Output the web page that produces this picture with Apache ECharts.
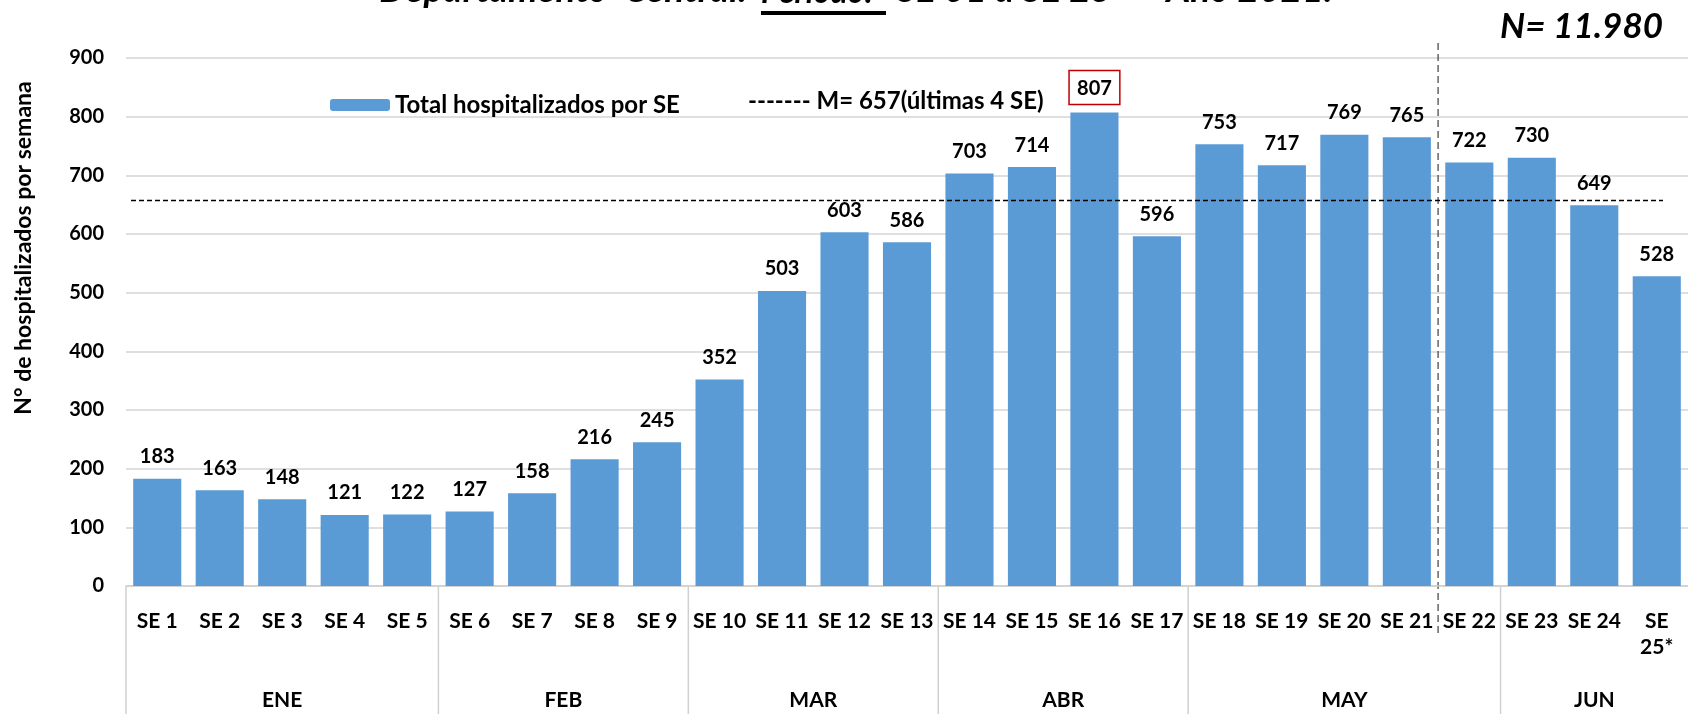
<!DOCTYPE html>
<html>
<head>
<meta charset="utf-8">
<script src="https://cdn.jsdelivr.net/npm/echarts@6/dist/echarts.min.js"></script>
<style>
  html, body { margin: 0; padding: 0; background: #fff; }
  #chart { width: 1688px; height: 714px; }
</style>
</head>
<body>
<div id="chart"></div>
<script>
// datos: semanas epidemiológicas y hospitalizados
const categories = ['SE 1', 'SE 2', 'SE 3', 'SE 4', 'SE 5', 'SE 6', 'SE 7', 'SE 8', 'SE 9', 'SE 10',
  'SE 11', 'SE 12', 'SE 13', 'SE 14', 'SE 15', 'SE 16', 'SE 17', 'SE 18', 'SE 19', 'SE 20',
  'SE 21', 'SE 22', 'SE 23', 'SE 24', 'SE\n25*'];
const hospitalizados = [183, 163, 148, 121, 122, 127, 158, 216, 245, 352, 503, 603, 586, 703, 714,
  807, 596, 753, 717, 769, 765, 722, 730, 649, 528];
const months = ['ENE', 'FEB', 'MAR', 'ABR', 'MAY', 'JUN'];
const monthWeeks = [5, 4, 4, 4, 5, 3];   // cantidad de SE por mes
const meanValue = 657;
const meanSpan = [-0.42, 24.1];          // extremo de la línea punteada (en índice de SE)
const maxIndex = 15;                     // SE 16, recuadro rojo
const splitAfter = 20;                   // línea vertical entre SE 21 y SE 22
const yMin = 0, yMax = 900, yStep = 100;

const FONT = 'Lato';
const chart = echarts.init(document.getElementById('chart'));

const barData = hospitalizados.map((v, i) => {
  if (i !== maxIndex) return v;
  return {
    value: v,
    label: {
      borderColor: '#c00000',
      borderWidth: 1.5,
      padding: [8, 8, 6, 8],
      distance: 8
    }
  };
});

const option = {
  animation: false,
  grid: { left: 126, right: 0, top: 58, bottom: 128 },
  xAxis: [
    {
      type: 'category',
      data: categories,
      axisLine: { show: true, lineStyle: { color: '#d0d0d0', width: 1.5 } },
      axisTick: { show: false },
      axisLabel: {
        interval: 0,
        margin: 22,
        color: '#000',
        fontFamily: FONT,
        fontWeight: 'bold',
        fontSize: 21,
        lineHeight: 26
      }
    },
    {
      type: 'value',
      min: -0.5,
      max: categories.length - 0.5,
      show: false
    }
  ],
  yAxis: {
    type: 'value',
    min: yMin,
    max: yMax,
    interval: yStep,
    axisLine: { show: false },
    axisTick: { show: false },
    axisLabel: {
      margin: 22,
      color: '#000',
      fontFamily: FONT,
      fontWeight: 'bold',
      fontSize: 20
    },
    splitLine: { lineStyle: { color: '#d4d4d4', width: 1.5 } }
  },
  legend: {
    data: ['Total hospitalizados por SE'],
    left: 325,
    top: 88,
    itemWidth: 60,
    itemHeight: 12,
    itemGap: 8,
    textStyle: { color: '#000', fontFamily: FONT, fontWeight: 'bold', fontSize: 24 }
  },
  series: [
    {
      name: 'Total hospitalizados por SE',
      type: 'bar',
      data: barData,
      barCategoryGap: '23%',
      itemStyle: { color: '#5b9bd5' },
      label: {
        show: true,
        position: 'top',
        distance: 12,
        color: '#000',
        fontFamily: FONT,
        fontWeight: 'bold',
        fontSize: 20
      }
    },
    {
      name: 'M= 657(últimas 4 SE)',
      type: 'line',
      xAxisIndex: 1,
      data: [[meanSpan[0], meanValue], [meanSpan[1], meanValue]],
      symbol: 'none',
      lineStyle: { color: '#000', width: 1.5, type: [5, 3] },
      silent: true
    }
  ]
};

chart.setOption(option);

// elementos dibujados a mano: título, N, nombre del eje, meses
function buildGraphic() {
  const px = (i) => chart.convertToPixel({ xAxisIndex: 1 }, i);
  const baseY = chart.convertToPixel({ yAxisIndex: 0 }, yMin);
  const els = [];
  const txt = (x, y, text, extra) => Object.assign({
    type: 'text', x: x, y: y,
    style: Object.assign({ text: text, fill: '#000', font: 'bold 19px ' + FONT }, extra || {})
  });

  // título (cortado arriba)
  const tFont = 'italic bold 37px ' + FONT;
  els.push(txt(755, 9, 'Departamento  Central. ', { font: tFont, align: 'right', verticalAlign: 'bottom' }));
  els.push(txt(761, 9, 'Período:', { font: 'italic bold 32px ' + FONT, align: 'left', verticalAlign: 'bottom' }));
  els.push(txt(897, 9, 'SE 01 a SE 25  –  Año 2021.', { font: tFont, align: 'left', verticalAlign: 'bottom' }));
  els.push({ type: 'line', shape: { x1: 761, y1: 13, x2: 886, y2: 13 }, style: { stroke: '#000', lineWidth: 4 } });

  els.push(txt(1663, 27, 'N= 11.980', { font: 'italic bold 35px ' + FONT, align: 'right', verticalAlign: 'middle' }));

  // leyenda de la media
  els.push(txt(748, 101, '------- M= 657(últimas 4 SE)', { font: 'bold 24px ' + FONT, align: 'left', verticalAlign: 'middle' }));

  // nombre del eje Y
  els.push({
    type: 'text', x: 24, y: 248, rotation: Math.PI / 2,
    style: { text: 'N° de hospitalizados por semana', fill: '#000', font: 'bold 23px ' + FONT, align: 'center', verticalAlign: 'middle' }
  });

  // separadores y etiquetas de meses
  let start = 0;
  months.forEach((m, k) => {
    const end = start + monthWeeks[k];
    const x0 = px(start - 0.5);
    const x1 = px(end - 0.5);
    els.push({ type: 'line', shape: { x1: x0, y1: baseY, x2: x0, y2: 714 }, style: { stroke: '#d0d0d0', lineWidth: 1.5 } });
    els.push(txt((x0 + x1) / 2, 700, m, { align: 'center', verticalAlign: 'middle', font: 'bold 21px ' + FONT }));
    start = end;
  });

  // línea vertical punteada entre SE 21 y SE 22
  const xs = px(splitAfter + 0.5);
  els.push({ type: 'line', shape: { x1: xs, y1: 43, x2: xs, y2: 636 }, style: { stroke: '#404040', lineWidth: 1.2, lineDash: [7, 4] } });

  chart.setOption({ graphic: els });
}
buildGraphic();
</script>
</body>
</html>
